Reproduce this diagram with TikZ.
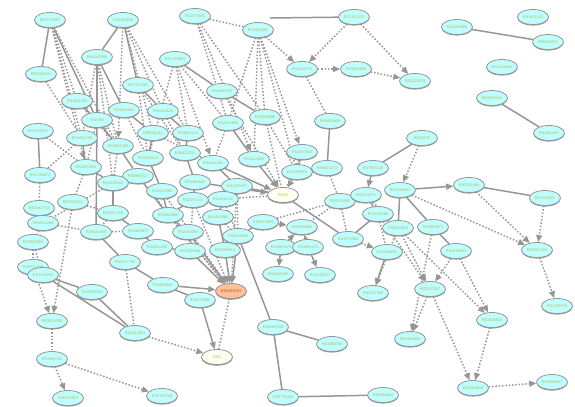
\documentclass[tikz,border=0pt]{standalone}
\usepackage{fontspec}
\setmainfont{Liberation Sans}
\usetikzlibrary{shapes.geometric,arrows.meta,shadows}
\definecolor{genefill}{RGB}{192,255,255}
\definecolor{hubfill}{RGB}{255,192,154}
\definecolor{ivory}{RGB}{255,255,240}
\definecolor{edgec}{RGB}{150,150,150}
\definecolor{labelc}{RGB}{176,184,86}
\pgfdeclarelayer{bg}
\pgfsetlayers{bg,main}
\begin{document}
\begin{tikzpicture}[x=0.02cm,y=-0.02cm,
    gene/.style={ellipse,draw=edgec,line width=0.45pt,fill=genefill,
      minimum width=0.62cm,minimum height=0.3cm,inner sep=0pt,
      font=\fontsize{2.2pt}{3pt}\selectfont,text=labelc,
      drop shadow={shadow xshift=0pt,shadow yshift=-0.6pt,fill=edgec,opacity=1}},
    hub/.style={gene,fill=hubfill,text=orange!70!black},
    blank/.style={gene,fill=ivory},
    solidedge/.style={draw=edgec,line width=0.85pt},
    dotedge/.style={draw=edgec,line width=0.85pt,dash pattern=on 0.85pt off 1.05pt},
    >={Triangle[length=4pt,width=3.4pt]}]
  \useasboundingbox (0,0) rectangle (575,406);
  \path[every node/.style=gene]
    (50,20) node (1){RS1079597}
    (123,20) node (2){RS4420638}
    (195,16) node (3){RS2075650}
    (258,30) node (4){RS1800562}
    (354,17) node (5){RS7412233}
    (457,27) node (6){RS4293580}
    (533,17) node (7){RS1801133}
    (548,42) node (8){RS6620012}
    (97,57) node (9){RS4149056}
    (175,59) node (10){RS1799983}
    (41,74) node (11){RS5186241}
    (302,69) node (12){RS1042713}
    (356,69) node (13){RS1800629}
    (415,81) node (14){RS2228570}
    (502,67) node (15){RS1544410}
    (138,85) node (16){RS7312360}
    (222,91) node (17){RS1800795}
    (492,98) node (18){RS2910164}
    (77,101) node (19){RS1801282}
    (97,120) node (20){RS6990}
    (124,110) node (21){RS4646994}
    (163,111) node (22){RS5443122}
    (265,117) node (23){RS1800896}
    (228,123) node (24){RS2234693}
    (330,121) node (25){RS9939609}
    (38,131) node (26){RS1778231}
    (82,138) node (27){RS1051730}
    (153,133) node (28){RS6265111}
    (188,133) node (29){RS4680122}
    (549,133) node (30){RS1800497}
    (422,138) node (31){RS53576}
    (118,146) node (32){RS1801260}
    (148,158) node (33){RS2553110}
    (185,153) node (34){RS6311204}
    (86,167) node (35){RS1800955}
    (40,175) node (36){RS1799971}
    (138,176) node (37){RS3891027}
    (113,183) node (38){RS1128503}
    (162,191) node (39){RS2032582}
    (195,182) node (40){RS1045642}
    (213,163) node (41){RS4244285}
    (254,159) node (42){RS1224856}
    (302,152) node (43){RS1057910}
    (297,172) node (44){RS1799853}
    (327,168) node (45){RS9923231}
    (373,168) node (46){RS7903146}
    (237,186) node (47){RS1225537}
    (283,195) node[blank] (48){RS20\hspace{3mm}}
    (223,199) node (49){RS1801131}
    (193,200) node (50){RS2070744}
    (73,202) node (51){RS1042522}
    (39,208) node (52){RS1042714}
    (340,201) node (53){RS5219000}
    (400,190) node (54){RS1326663}
    (366,195) node (55){RS1111875}
    (378,214) node (56){RS1081166}
    (218,217) node (57){RS4402960}
    (168,215) node (58){RS1800469}
    (113,213) node (59){RS2241766}
    (43,223) node (60){RS1501299}
    (263,222) node (61){RS8223930}
    (302,227) node (62){RS2010963}
    (238,236) node (63){RS3025039}
    (348,239) node (64){RS1570360}
    (398,228) node (65){RS8330610}
    (433,227) node (66){RS1800871}
    (138,231) node (67){RS1800872}
    (96,232) node (68){RS3024505}
    (188,232) node (69){RS2243250}
    (33,242) node (70){RS1800925}
    (157,247) node (71){RS2054100}
    (190,251) node (72){RS1295686}
    (225,250) node (73){RS2069812}
    (281,247) node (74){RS1800470}
    (308,247) node (75){RS1800471}
    (387,252) node (76){RS1156882}
    (456,251) node (77){RS2476601}
    (537,250) node (78){RS3087243}
    (125,262) node (79){RS2317750}
    (33,267) node (80){RS5742909}
    (43,275) node (81){RS1143634}
    (278,274) node (82){RS1694400}
    (320,275) node (83){RS1143627}
    (163,285) node (84){RS1800587}
    (231,291) node[hub] (85){RS2069762}
    (92,292) node (86){RS2069763}
    (200,300) node (87){RS4073000}
    (373,293) node (88){RS2227306}
    (430,289) node (89){RS2227307}
    (557,306) node (90){RS1126579}
    (492,320) node (91){RS1800610}
    (52,321) node (92){RS3615250}
    (135,333) node (93){RS1041981}
    (273,327) node (94){RS9092530}
    (410,339) node (95){RS1800630}
    (332,344) node (96){RS4986790}
    (217,357) node[blank] (97){RS5\hspace{3.5mm}}
    (52,359) node (98){RS4986791}
    (162,396) node (99){RS5743708}
    (68,398) node (100){RS5743810}
    (283,397) node (101){RS3775291}
    (383,395) node (102){RS2066844}
    (473,388) node (103){RS2066845}
    (552,382) node (104){RS2066847}
    (469,185) node (105){RS2241880}
    (545,198) node (106){RS1120902};
  \coordinate (c1) at (270,18);
  \begin{pgfonlayer}{bg}
  \begin{scope}[solidedge]
    \draw (c1) to (5);
    \draw (1) to (11);
    \draw (1) to (20);
    \draw (2) to (9);
    \draw (2) to (16);
    \draw (9) to (20);
    \draw (9) to (21);
    \draw (16) to (22);
    \draw (10) to (17);
    \draw (17) to (23);
    \draw (6) to (8);
    \draw (18) to (30);
    \draw (25) to (45);
    \draw (26) to (36);
    \draw (20) to (68);
    \draw (19) to (20);
    \draw (20) to (32);
    \draw (27) to (35);
    \draw (32) to (37);
    \draw (35) to (38);
    \draw (33) to (39);
    \draw (34) to (40);
    \draw (28) to (33);
    \draw (21) to (28);
    \draw (24) to (42);
    \draw (43) to (44);
    \draw (44) to (45);
    \draw (47) to (48);
    \draw (48) to (64);
    \draw (64) to (56);
    \draw (46) to (31);
    \draw (105) to (106);
    \draw (54) to (65);
    \draw (54) to (66);
    \draw (66) to (77);
    \draw (55) to (56);
    \draw (50) to (58);
    \draw (58) to (69);
    \draw (59) to (67);
    \draw (67) to (71);
    \draw (71) to (72);
    \draw (68) to (79);
    \draw (79) to (84);
    \draw (57) to (73);
    \draw (63) to (61);
    \draw (63) to (94);
    \draw (94) to (96);
    \draw (94) to (101);
    \draw (101) to (102);
    \draw (81) to (93);
    \draw (81) to (86);
    \draw (86) to (93);
    \draw (84) to (87);
    \draw (38) to (59);
    \draw (37) to (58);
    \draw (22) to (29);
    \draw (29) to (34);
    \draw (41) to (47);
    \draw (40) to (50);
    \draw (39) to (58);
    \draw (49) to (57);
    \draw[->] (41) to (48);
    \draw[->] (42) to (48);
    \draw[->] (40) to (48);
    \draw[->] (46) to (55);
    \draw[->] (54) to (105);
    \draw[->] (72) to (85);
    \draw[->] (73) to (85);
    \draw[->] (69) to (85);
    \draw[->] (63) to (85);
    \draw[->] (84) to (85);
    \draw[->] (61) to (62);
    \draw[->] (74) to (62);
    \draw[->] (75) to (62);
    \draw[->] (74) to (82);
    \draw[->] (75) to (83);
    \draw[->] (87) to (97);
    \draw[->] (76) to (88);
  \end{scope}
  \begin{scope}[dotedge]
    \draw[->] (4) to (12);
    \draw[->] (5) to (12);
    \draw[->] (12) to (13);
    \draw[->] (13) to (14);
    \draw[->] (5) to (14);
    \draw[->] (4) to (43);
    \draw[->] (1) to (35);
    \draw[->] (2) to (32);
    \draw[->] (10) to (41);
    \draw[->] (3) to (42);
    \draw[->] (106) to (78);
    \draw[->] (105) to (78);
    \draw[->] (54) to (78);
    \draw[->] (77) to (89);
    \draw[->] (65) to (89);
    \draw[->] (56) to (89);
    \draw[->] (64) to (76);
    \draw[->] (65) to (88);
    \draw[->] (89) to (95);
    \draw[->] (66) to (95);
    \draw[->] (89) to (103);
    \draw[->] (91) to (103);
    \draw[->] (103) to (104);
    \draw[->] (65) to (91);
    \draw[->] (77) to (91);
    \draw[->] (78) to (90);
    \draw[->] (80) to (92);
    \draw[->] (98) to (100);
    \draw[->] (98) to (99);
    \draw[->] (93) to (97);
    \draw[->] (37) to (85);
    \draw[->] (39) to (85);
    \draw[->] (50) to (85);
    \draw[->] (58) to (85);
    \draw[->] (47) to (85);
    \draw[->] (44) to (48);
    \draw[->] (17) to (48);
    \draw[->] (31) to (54);
    \draw[->] (51) to (92);
    \draw[->] (70) to (81);
    \draw (3) to (4);
    \draw (12) to (25);
    \draw (4) to (23);
    \draw (4) to (24);
    \draw (4) to (42);
    \draw (4) to (44);
    \draw (1) to (19);
    \draw (1) to (27);
    \draw (1) to (32);
    \draw (2) to (22);
    \draw (2) to (28);
    \draw (2) to (29);
    \draw (9) to (27);
    \draw (9) to (32);
    \draw (9) to (38);
    \draw (10) to (29);
    \draw (10) to (33);
    \draw (10) to (24);
    \draw (3) to (24);
    \draw (3) to (23);
    \draw (16) to (33);
    \draw (16) to (34);
    \draw (23) to (48);
    \draw (43) to (48);
    \draw (45) to (53);
    \draw (55) to (65);
    \draw (56) to (65);
    \draw (56) to (76);
    \draw (53) to (62);
    \draw (92) to (98);
    \draw (85) to (97);
    \draw (53) to (64);
    \draw (11) to (27);
    \draw (26) to (35);
    \draw (36) to (52);
    \draw (52) to (60);
    \draw (60) to (70);
    \draw (70) to (80);
    \draw (35) to (51);
    \draw (51) to (59);
    \draw (68) to (67);
    \draw (59) to (68);
    \draw (79) to (93);
    \draw (47) to (63);
    \draw (49) to (63);
    \draw (57) to (63);
    \draw (50) to (72);
    \draw (73) to (63);
    \draw (61) to (53);
    \draw (48) to (49);
    \draw (23) to (44);
    \draw (24) to (41);
    \draw (22) to (34);
    \draw (28) to (41);
    \draw (32) to (38);
    \draw (27) to (36);
    \draw (19) to (32);
    \draw (21) to (33);
    \draw (20) to (35);
    \draw (38) to (60);
    \draw (60) to (68);
  \end{scope}
  \end{pgfonlayer}
\end{tikzpicture}
\end{document}
